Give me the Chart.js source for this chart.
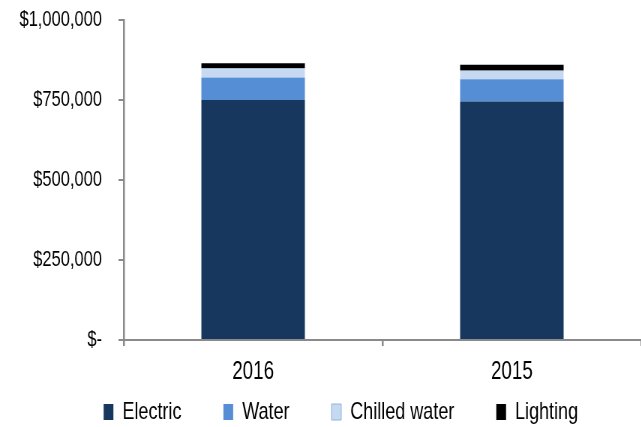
<!DOCTYPE html>
<html>
<head>
<meta charset="utf-8">
<script src="https://cdn.jsdelivr.net/npm/chart.js"></script>
<style>
  body { margin: 0; background: #fff; }
  #wrap { width: 641px; height: 427px; overflow: hidden; }
  /* the original picture is squeezed horizontally; draw wide and squeeze the same way */
  #cost-chart { transform: scaleX(0.75); transform-origin: 0 0; }
</style>
</head>
<body>
<div id="wrap"><canvas id="cost-chart" width="855" height="427"></canvas></div>
<script>
const categories = ['2016', '2015'];
const electric = [750000, 745000];
const water = [70000, 70000];
const chilledWater = [29000, 27000];
const lighting = [16000, 18000];
const yTicks = [0, 250000, 500000, 750000, 1000000];

const FONT = "'Liberation Sans', Arial, sans-serif";
const AXIS_GREY = '#8a8a8a';

function formatDollar(v) {
  if (v === 0) return '$-';
  return '$' + Number(v).toLocaleString('en-US');
}

// move the legend row to where it sits in the original
const legendShift = {
  id: 'legendShift',
  afterLayout(chart) {
    const lg = chart.legend;
    lg.left += 27;
    lg.right += 27;
    lg.top = 344;
    lg.bottom = 344 + 100;
  }
};

const ctx = document.getElementById('cost-chart').getContext('2d');
const chart = new Chart(ctx, {
  type: 'bar',
  data: {
    labels: categories,
    datasets: [
      { label: 'Electric', data: electric, backgroundColor: '#17375e', borderWidth: 0 },
      { label: 'Water', data: water, backgroundColor: '#558ed5', borderWidth: 0 },
      { label: 'Chilled water', data: chilledWater, backgroundColor: '#c6d9f1', borderColor: '#8eb4e3', borderWidth: 1 },
      { label: 'Lighting', data: lighting, backgroundColor: '#000000', borderWidth: 0 }
    ]
  },
  plugins: [legendShift],
  options: {
    responsive: false,
    animation: false,
    layout: { padding: { left: 0, right: 0, top: 20, bottom: 0 } },
    datasets: {
      bar: { categoryPercentage: 1.0, barPercentage: 0.4 }
    },
    scales: {
      x: {
        stacked: true,
        offset: true,
        border: { color: AXIS_GREY, width: 2 },
        grid: { display: true, drawOnChartArea: false, offset: true, color: AXIS_GREY, lineWidth: 2.5, tickLength: 6 },
        ticks: { color: '#000', font: { family: FONT, size: 25 }, padding: 11 },
        afterFit: function(scale) { scale.height = 47; }
      },
      y: {
        stacked: true,
        min: 0,
        max: 1000000,
        afterBuildTicks: function(scale) { scale.ticks = yTicks.map(v => ({ value: v })); },
        border: { color: AXIS_GREY, width: 2.5 },
        grid: { display: true, drawOnChartArea: false, color: AXIS_GREY, lineWidth: 2, tickLength: 7 },
        ticks: { color: '#000', font: { family: FONT, size: 22 }, padding: 22 },
        afterFit: function(scale) {
          scale.width = 165;
          scale.paddingTop = 14;
          scale.paddingBottom = 14;
        }
      }
    },
    plugins: {
      legend: {
        position: 'bottom',
        maxHeight: 40,
        labels: {
          color: '#000',
          font: { family: FONT, size: 24 },
          boxWidth: 13,
          boxHeight: 16,
          padding: 56
        }
      },
      tooltip: { enabled: false }
    }
  }
});
chart.options.scales.y.ticks.callback = formatDollar;
chart.update();
</script>
</body>
</html>
